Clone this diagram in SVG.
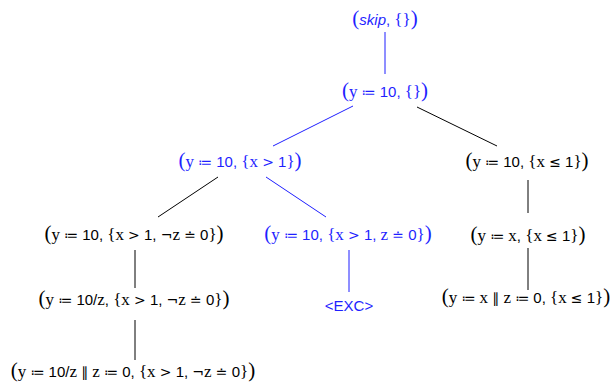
<svg xmlns="http://www.w3.org/2000/svg" width="615" height="385" viewBox="0 0 615 385">
<style>
text{font-family:"Liberation Sans",Arial,sans-serif;font-size:15px;text-anchor:middle;fill:#000}
.b text,text.b{fill:#1f1fff}
.v{font-family:"Liberation Serif","DejaVu Serif",serif;font-size:17px}
.p{font-family:"Liberation Serif",serif;font-size:21px}
.c{font-family:"Liberation Serif",serif;font-size:17px}
.s{font-family:"DejaVu Sans",sans-serif;font-size:14px}
.i{font-style:italic}
.k line{stroke:#000;stroke-width:1}
.k line.b{stroke:#1f1fff}
</style>
<rect width="615" height="385" fill="#fff"/>
<g id="connectors" class="k">
<line class="b" x1="385" y1="32" x2="385" y2="74"/>
<line class="b" x1="353" y1="106" x2="273" y2="146"/>
<line x1="417" y1="107" x2="497" y2="146"/>
<line x1="218" y1="177" x2="158" y2="217"/>
<line class="b" x1="266" y1="177" x2="326" y2="217"/>
<line x1="528" y1="180" x2="528" y2="213"/>
<line x1="135" y1="250" x2="135" y2="288"/>
<line class="b" x1="349" y1="250" x2="349" y2="292"/>
<line x1="528" y1="248" x2="528" y2="290"/>
<line x1="135" y1="320" x2="135" y2="360"/>
</g>
<g id="n1" class="b"><text x="385" y="25"><tspan class="p">(</tspan><tspan class="i">skip</tspan>, <tspan class="c">{}</tspan><tspan class="p">)</tspan></text></g>
<g id="n2" class="b"><text x="385" y="97"><tspan class="p">(</tspan><tspan class="v">y</tspan> <tspan class="s">≔</tspan> 10, <tspan class="c">{}</tspan><tspan class="p">)</tspan></text></g>
<g id="n3" class="b"><text x="240" y="167"><tspan class="p">(</tspan><tspan class="v">y</tspan> <tspan class="s">≔</tspan> 10, <tspan class="c">{</tspan><tspan class="v">x</tspan> <tspan class="s">&gt;</tspan> 1<tspan class="c">}</tspan><tspan class="p">)</tspan></text></g>
<g id="n4"><text x="527" y="167"><tspan class="p">(</tspan><tspan class="v">y</tspan> <tspan class="s">≔</tspan> 10, <tspan class="c">{</tspan><tspan class="v">x</tspan> <tspan class="s">≤</tspan> 1<tspan class="c">}</tspan><tspan class="p">)</tspan></text></g>
<g id="n5"><text x="134" y="240"><tspan class="p">(</tspan><tspan class="v">y</tspan> <tspan class="s">≔</tspan> 10, <tspan class="c">{</tspan><tspan class="v">x</tspan> <tspan class="s">&gt;</tspan> 1, <tspan class="s">¬</tspan><tspan class="v">z</tspan> <tspan class="s">≐</tspan> 0<tspan class="c">}</tspan><tspan class="p">)</tspan></text></g>
<g id="n6" class="b"><text x="348" y="240"><tspan class="p">(</tspan><tspan class="v">y</tspan> <tspan class="s">≔</tspan> 10, <tspan class="c">{</tspan><tspan class="v">x</tspan> <tspan class="s">&gt;</tspan> 1, <tspan class="v">z</tspan> <tspan class="s">≐</tspan> 0<tspan class="c">}</tspan><tspan class="p">)</tspan></text></g>
<g id="n7"><text x="528" y="241"><tspan class="p">(</tspan><tspan class="v">y</tspan> <tspan class="s">≔</tspan> <tspan class="v">x</tspan>, <tspan class="c">{</tspan><tspan class="v">x</tspan> <tspan class="s">≤</tspan> 1<tspan class="c">}</tspan><tspan class="p">)</tspan></text></g>
<g id="n8" class="b"><text x="349" y="311">&lt;EXC&gt;</text></g>
<g id="n9"><text x="134" y="305"><tspan class="p">(</tspan><tspan class="v">y</tspan> <tspan class="s">≔</tspan> 10/<tspan class="v">z</tspan>, <tspan class="c">{</tspan><tspan class="v">x</tspan> <tspan class="s">&gt;</tspan> 1, <tspan class="s">¬</tspan><tspan class="v">z</tspan> <tspan class="s">≐</tspan> 0<tspan class="c">}</tspan><tspan class="p">)</tspan></text></g>
<g id="n10"><text x="526" y="303"><tspan class="p">(</tspan><tspan class="v">y</tspan> <tspan class="s">≔</tspan> <tspan class="v">x</tspan> <tspan class="s">∥</tspan> <tspan class="v">z</tspan> <tspan class="s">≔</tspan> 0, <tspan class="c">{</tspan><tspan class="v">x</tspan> <tspan class="s">≤</tspan> 1<tspan class="c">}</tspan><tspan class="p">)</tspan></text></g>
<g id="n11"><text x="133" y="377"><tspan class="p">(</tspan><tspan class="v">y</tspan> <tspan class="s">≔</tspan> 10/<tspan class="v">z</tspan> <tspan class="s">∥</tspan> <tspan class="v">z</tspan> <tspan class="s">≔</tspan> 0, <tspan class="c">{</tspan><tspan class="v">x</tspan> <tspan class="s">&gt;</tspan> 1, <tspan class="s">¬</tspan><tspan class="v">z</tspan> <tspan class="s">≐</tspan> 0<tspan class="c">}</tspan><tspan class="p">)</tspan></text></g>
</svg>
